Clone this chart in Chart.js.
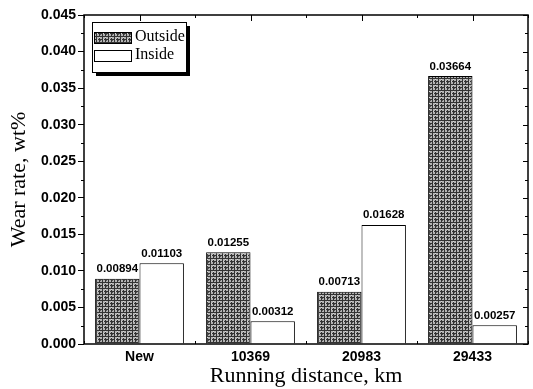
<!DOCTYPE html>
<html>
<head>
<meta charset="utf-8">
<script src="https://cdn.jsdelivr.net/npm/chart.js@4"></script>
<style>
  html, body { margin: 0; padding: 0; background: #fff; }
  canvas { display: block; }
</style>
</head>
<body>
<canvas id="wearChart" width="533" height="389"></canvas>
<script>
// data
const distances = ['New', '10369', '20983', '29433'];
const outsideWear = [0.00894, 0.01255, 0.00713, 0.03664];
const insideWear = [0.01103, 0.00312, 0.01628, 0.00257];
const outsideLabels = ['0.00894', '0.01255', '0.00713', '0.03664'];
const insideLabels = ['0.01103', '0.00312', '0.01628', '0.00257'];

// grey crosshatch fill like the scanned bars
function makeHatch() {
    const c = document.createElement('canvas');
    c.width = 6;
    c.height = 6;
    const g = c.getContext('2d');
    g.fillStyle = '#b4b4b4';
    g.fillRect(0, 0, 6, 6);
    g.fillStyle = '#333';
    g.fillRect(0, 0, 6, 1);
    g.fillRect(0, 3, 6, 1);
    g.fillRect(0, 0, 1, 6);
    g.fillRect(3, 0, 1, 6);
    // a few light flecks so it is not a perfect grid
    g.fillStyle = '#d8d8d8';
    g.fillRect(3, 1, 1, 1);
    g.fillRect(1, 3, 1, 1);
    g.fillStyle = '#555';
    g.fillRect(4, 4, 1, 1);
    return g.createPattern(c, 'repeat');
}
const hatch = makeHatch();

// value labels over the bars
const barLabels = {
    id: 'barLabels',
    afterDatasetsDraw(chart) {
        const ctx = chart.ctx;
        ctx.save();
        ctx.font = 'bold 11.5px "Liberation Sans", Arial, sans-serif';
        ctx.fillStyle = '#000';
        ctx.textAlign = 'center';
        ctx.textBaseline = 'bottom';
        chart.data.datasets.forEach((ds, i) => {
            chart.getDatasetMeta(i).data.forEach((bar, j) => {
                ctx.fillText(ds.valueLabels[j], bar.x, bar.y - 4);
            });
        });
        ctx.restore();
    }
};

// frame, minor ticks and the boxed legend with drop shadow
const frame = {
    id: 'frame',
    afterDraw(chart) {
        const ctx = chart.ctx;
        const a = chart.chartArea;
        const y = chart.scales.y;
        const x = chart.scales.x;
        ctx.save();
        ctx.strokeStyle = '#000';
        ctx.lineWidth = 1.5;
        ctx.strokeRect(a.left, a.top, a.right - a.left, a.bottom - a.top);
        ctx.lineWidth = 1;
        ctx.beginPath();
        for (let v = 0; v <= 0.045001; v += 0.0025) {
            const py = Math.round(y.getPixelForValue(v)) + 0.5;
            const major = Math.abs(v / 0.005 - Math.round(v / 0.005)) < 1e-6;
            if (!major) {
                ctx.moveTo(a.left, py);
                ctx.lineTo(a.left - 3, py);
            }
            ctx.moveTo(a.right, py);
            ctx.lineTo(a.right - (major ? 5 : 3), py);
        }
        const n = distances.length;
        for (let i = 0; i <= n; i++) {
            const px = Math.round(a.left + (a.right - a.left) * i / n) + 0.5;
            ctx.moveTo(px, a.top);
            ctx.lineTo(px, a.top + 3);
            ctx.moveTo(px, a.bottom);
            ctx.lineTo(px, a.bottom - 3);
        }
        for (let i = 0; i < n; i++) {
            const px = Math.round(x.getPixelForValue(i)) + 0.5;
            ctx.moveTo(px, a.top);
            ctx.lineTo(px, a.top + 6);
        }
        ctx.stroke();

        // legend
        const lx = a.left + 8, ly = a.top + 7, lw = 94, lh = 50;
        ctx.fillStyle = '#000';
        ctx.fillRect(lx + 4, ly + 4, lw, lh);
        ctx.fillStyle = '#fff';
        ctx.fillRect(lx, ly, lw, lh);
        ctx.strokeStyle = '#000';
        ctx.lineWidth = 1;
        ctx.strokeRect(lx + 0.5, ly + 0.5, lw, lh);
        ctx.font = '16px "Liberation Serif", "Times New Roman", serif';
        ctx.textBaseline = 'middle';
        ctx.textAlign = 'left';
        chart.data.datasets.forEach((ds, i) => {
            const ry = ly + 10 + i * 18;
            ctx.fillStyle = ds.backgroundColor;
            ctx.fillRect(lx + 2, ry, 37, 11);
            ctx.strokeRect(lx + 2.5, ry + 0.5, 37, 11);
            ctx.fillStyle = '#000';
            ctx.fillText(ds.label, lx + 43, ry + 5);
        });
        ctx.restore();
    }
};

new Chart(document.getElementById('wearChart').getContext('2d'), {
    type: 'bar',
    data: {
        labels: distances,
        datasets: [
            {
                label: 'Outside',
                data: outsideWear,
                valueLabels: outsideLabels,
                backgroundColor: hatch,
                borderColor: '#000',
                borderWidth: 1
            },
            {
                label: 'Inside',
                data: insideWear,
                valueLabels: insideLabels,
                backgroundColor: '#fff',
                borderColor: '#000',
                borderWidth: 1
            }
        ]
    },
    options: {
        responsive: false,
        animation: false,
        layout: { padding: { top: 15, right: 5, left: 0, bottom: 0 } },
        datasets: { bar: { categoryPercentage: 0.8, barPercentage: 1.0 } },
        plugins: {
            legend: { display: false },
            tooltip: { enabled: false }
        },
        scales: {
            x: {
                grid: { display: false, drawTicks: false },
                border: { display: false },
                ticks: {
                    color: '#000',
                    padding: 5,
                    font: { family: '"Liberation Sans", Arial, sans-serif', size: 14, weight: 'bold' }
                },
                title: {
                    display: true,
                    text: 'Running distance, km',
                    color: '#000',
                    padding: { top: 0, bottom: 0 },
                    font: { family: '"Liberation Serif", "Times New Roman", serif', size: 22 }
                },
                afterFit(scale) { scale.height = 45; }
            },
            y: {
                min: 0,
                max: 0.045,
                grid: { drawOnChartArea: false, color: '#000', tickLength: 6, tickWidth: 1 },
                border: { display: false },
                ticks: {
                    stepSize: 0.005,
                    color: '#000',
                    padding: 2,
                    callback: v => v.toFixed(3),
                    font: { family: '"Liberation Sans", Arial, sans-serif', size: 14, weight: 'bold' }
                },
                title: {
                    display: true,
                    text: 'Wear rate, wt%',
                    color: '#000',
                    padding: { top: 6, bottom: 0 },
                    font: { family: '"Liberation Serif", "Times New Roman", serif', size: 22 }
                },
                afterFit(scale) { scale.width = 84; }
            }
        }
    },
    plugins: [barLabels, frame]
});
</script>
</body>
</html>
